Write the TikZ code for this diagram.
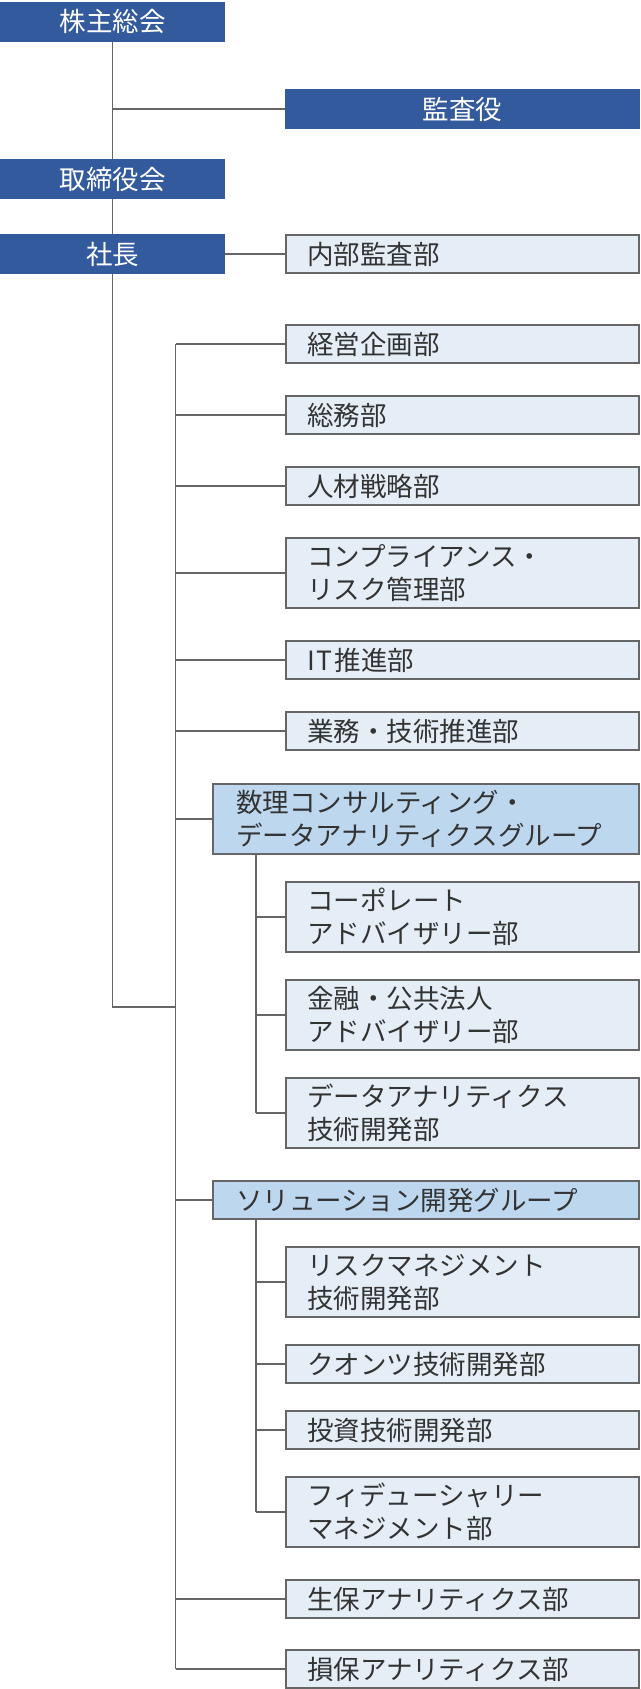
\documentclass[tikz,border=0pt]{standalone}
\usepackage{fontspec}
\setmainfont{Noto Sans CJK JP}
\definecolor{boardBlue}{RGB}{52,90,158}
\definecolor{deptFill}{RGB}{229,237,247}
\definecolor{groupFill}{RGB}{189,215,238}
\definecolor{lineGray}{RGB}{102,102,102}
\definecolor{textGray}{RGB}{51,51,51}
\usetikzlibrary{positioning,calc}

\begin{document}
\begin{tikzpicture}[x=1pt,y=-1pt,font=\fontsize{26.5}{33}\selectfont,node distance=33pt,
    every node/.style={rectangle,outer sep=0pt},
    topBox/.style={fill=boardBlue,text=white,minimum height=40pt,minimum width=225pt,inner sep=0pt},
    deptBox/.style={draw=lineGray,line width=1.4pt,fill=deptFill,text=textGray,text width=311pt,inner xsep=21pt,inner ysep=0pt,align=left,minimum height=38pt},
    twoLine/.style={minimum height=70pt},
    groupBox/.style={deptBox,fill=groupFill,text width=380pt,inner xsep=23pt},
    link/.style={draw=lineGray,line width=1.4pt},
    ]
    \useasboundingbox (0,0) rectangle (640,1689);

    \node[topBox,anchor=north west] (kabunushi) at (0,1.5) {株主総会};
    \node[topBox,minimum width=355pt,anchor=north west] (kansayaku) at (285,89) {監査役};
    \node[topBox,anchor=north west] (torishimari) at (0,159) {取締役会};
    \node[topBox,anchor=north west] (shacho) at (0,234) {社長};
    \node[deptBox,anchor=north west] (naibu) at (286,235) {内部監査部};

    \node[deptBox,anchor=north west] (keiei) at (286,325) {経営企画部};
    \node[deptBox,below=of keiei.south west,anchor=north west] (soumu) {総務部};
    \node[deptBox,below=of soumu.south west,anchor=north west] (jinzai) {人材戦略部};
    \node[deptBox,twoLine,below=of jinzai.south west,anchor=north west] (compliance) {コンプライアンス・\\リスク管理部};
    \node[deptBox,below=of compliance.south west,anchor=north west] (itSuishin) {I\kern2pt T\kern2pt 推進部};
    \node[deptBox,below=of itSuishin.south west,anchor=north west] (gyomu) {業務・技術推進部};

    \node[groupBox,twoLine,below=34pt of gyomu.south west,anchor=north west,xshift=-73pt] (suuri) {数理コンサルティング・\\データアナリティクスグループ};
    \node[deptBox,twoLine,below=28pt of suuri.south west,anchor=north west,xshift=73pt] (corporate) {コーポレート\\アドバイザリー部};
    \node[deptBox,twoLine,below=28pt of corporate.south west,anchor=north west] (kinyu) {金融・公共法人\\アドバイザリー部};
    \node[deptBox,twoLine,below=28pt of kinyu.south west,anchor=north west] (dataTech) {データアナリティクス\\技術開発部};

    \node[groupBox,below=of dataTech.south west,anchor=north west,xshift=-73pt] (solution) {ソリューション開発グループ};
    \node[deptBox,twoLine,below=28pt of solution.south west,anchor=north west,xshift=73pt] (riskTech) {リスクマネジメント\\技術開発部};
    \node[deptBox,below=28pt of riskTech.south west,anchor=north west] (quants) {クオンツ技術開発部};
    \node[deptBox,below=28pt of quants.south west,anchor=north west] (toushi) {投資技術開発部};
    \node[deptBox,twoLine,below=28pt of toushi.south west,anchor=north west] (fiduciary) {フィデューシャリー\\マネジメント部};

    \node[deptBox,below=of fiduciary.south west,anchor=north west] (seiho) {生保アナリティクス部};
    \node[deptBox,below=32pt of seiho.south west,anchor=north west] (sonpo) {損保アナリティクス部};

    \coordinate (spine) at (175.5,0);
    \coordinate (subSpine) at (256,0);
    \coordinate (shachoJoin) at (175.5,1007);

    \draw[link] (kabunushi) -- (torishimari);
    \draw[link] (kansayaku.west) -- (kansayaku.west -| kabunushi.south);
    \draw[link] (torishimari) -- (shacho);
    \draw[link] (shacho) -- (naibu);
    \draw[link] (shacho.south) |- (shachoJoin);
    \draw[link] (keiei.west -| spine) -- (sonpo.west -| spine);
    \foreach \dept in {keiei,soumu,jinzai,compliance,itSuishin,gyomu,suuri,solution,seiho,sonpo}
        \draw[link] (\dept.west) -- (\dept.west -| spine);
    \draw[link] (suuri.south -| subSpine) -- (dataTech.west -| subSpine);
    \foreach \dept in {corporate,kinyu,dataTech}
        \draw[link] (\dept.west) -- (\dept.west -| subSpine);
    \draw[link] (solution.south -| subSpine) -- (fiduciary.west -| subSpine);
    \foreach \dept in {riskTech,quants,toushi,fiduciary}
        \draw[link] (\dept.west) -- (\dept.west -| subSpine);
\end{tikzpicture}
\end{document}
